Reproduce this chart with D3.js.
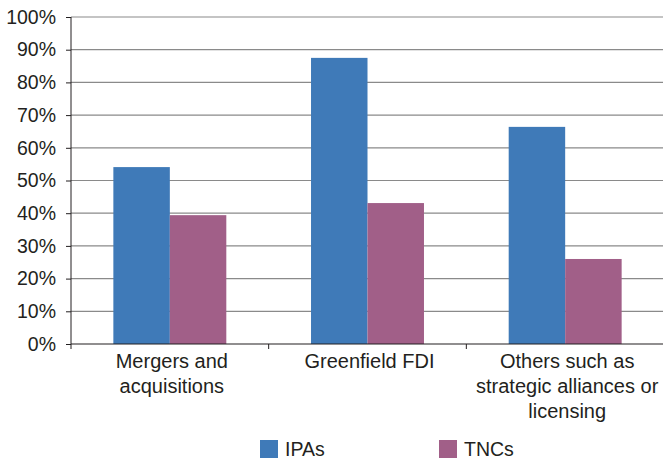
<!DOCTYPE html>
<html>
<head>
<meta charset="utf-8">
<script src="https://cdnjs.cloudflare.com/ajax/libs/d3/7.8.5/d3.min.js"></script>
<style>
  body { margin: 0; background: #fff; }
  text { font-family: "Liberation Sans", Arial, sans-serif; fill: #231f20; }
</style>
</head>
<body>
<div id="chart"></div>
<script>
const categories = [
    ["Mergers and", "acquisitions"],
    ["Greenfield FDI"],
    ["Others such as", "strategic alliances or", "licensing"]
];
const seriesNames = ["IPAs", "TNCs"];
const ipas = [0.541, 0.875, 0.664];
const tncs = [0.394, 0.431, 0.260];
const yTicks = [0, 0.1, 0.2, 0.3, 0.4, 0.5, 0.6, 0.7, 0.8, 0.9, 1.0];
const colors = ["#3f7ab8", "#a15f88"];

const width = 663, height = 459;
const plotLeft = 71, plotRight = 664, plotTop = 17, plotBottom = 344;

const svg = d3.select("#chart")
    .append("svg")
    .attr("width", width)
    .attr("height", height);

const x = d3.scaleBand()
    .domain(d3.range(categories.length))
    .range([plotLeft, plotRight]);

const xSub = d3.scaleBand()
    .domain(seriesNames)
    .range([0, x.bandwidth()])
    .paddingInner(0)
    .paddingOuter(0.75);

const y = d3.scaleLinear()
    .domain([0, 1])
    .range([plotBottom, plotTop]);

// gridlines
svg.append("g")
    .selectAll("line")
    .data(yTicks.slice(1))
    .join("line")
    .attr("x1", plotLeft)
    .attr("x2", plotRight)
    .attr("y1", d => y(d))
    .attr("y2", d => y(d))
    .style("stroke", "#8a8a8a")
    .style("stroke-width", 1.2);

// bars
const groups = svg.append("g")
    .selectAll("g")
    .data(categories.map((c, i) => ({ i, vals: [ipas[i], tncs[i]] })))
    .join("g")
    .attr("transform", d => `translate(${x(d.i)},0)`);

groups.selectAll("rect")
    .data(d => d.vals.map((v, k) => ({ v, k })))
    .join("rect")
    .attr("x", d => xSub(seriesNames[d.k]))
    .attr("width", xSub.bandwidth())
    .attr("y", d => y(d.v))
    .attr("height", d => y(0) - y(d.v))
    .style("fill", d => colors[d.k]);

// y axis
const yAxis = d3.axisLeft(y)
    .tickValues(yTicks)
    .tickFormat(d3.format(".0%"))
    .tickSize(5)
    .tickPadding(10);

const yg = svg.append("g")
    .attr("transform", `translate(${plotLeft},0)`)
    .call(yAxis);
yg.select(".domain").attr("d", `M0,${plotTop}V${plotBottom + 5}`).style("stroke", "#231f20");
yg.selectAll(".tick line").style("stroke", "#231f20");
yg.selectAll(".tick text")
    .style("font-size", "19.5px")
    .style("font-family", "'Liberation Sans', Arial, sans-serif")
    .attr("fill", "#231f20");

// x axis line with boundary ticks
svg.append("line")
    .attr("x1", plotLeft).attr("x2", plotRight)
    .attr("y1", plotBottom).attr("y2", plotBottom)
    .style("stroke", "#231f20")
    .style("stroke-width", 1.2);

svg.append("g")
    .selectAll("line")
    .data(d3.range(1, categories.length))
    .join("line")
    .attr("x1", d => x(d)).attr("x2", d => x(d))
    .attr("y1", plotBottom).attr("y2", plotBottom + 5)
    .style("stroke", "#231f20");

// category labels
const labels = svg.append("g")
    .selectAll("text")
    .data(categories)
    .join("text")
    .attr("text-anchor", "middle")
    .attr("transform", (d, i) => `translate(${x(i) + x.bandwidth() / 2 + 2},${plotBottom + 24})`)
    .style("font-size", "20px");

labels.selectAll("tspan")
    .data(d => d)
    .join("tspan")
    .attr("x", 0)
    .attr("y", (d, i) => i * 25)
    .text(d => d);

// legend
const legendX = [260, 439];
const legend = svg.append("g")
    .selectAll("g")
    .data(seriesNames)
    .join("g")
    .attr("transform", (d, i) => `translate(${legendX[i]},440)`);

legend.append("rect")
    .attr("width", 18)
    .attr("height", 18)
    .style("fill", (d, i) => colors[i]);

legend.append("text")
    .attr("x", 25)
    .attr("y", 16)
    .style("font-size", "19.5px")
    .text(d => d);
</script>
</body>
</html>
